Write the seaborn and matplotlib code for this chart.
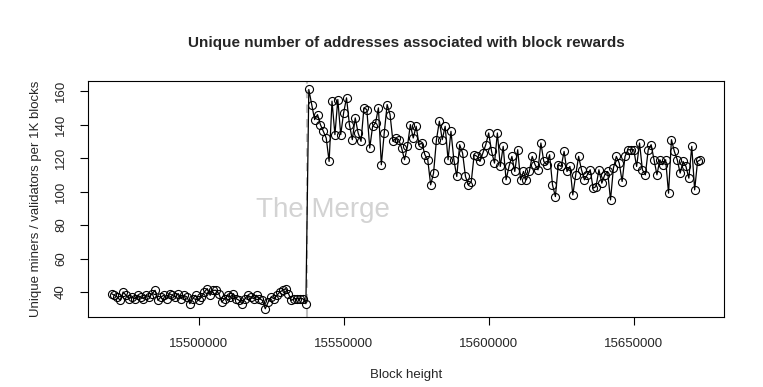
import numpy as np
import pandas as pd
import matplotlib
matplotlib.use("Agg")
import matplotlib.pyplot as plt
import seaborn as sns

# ---- data ----
start_block = 15470000
block_step = 1000
merge_block = 15537394

low_values = [39, 38, 37, 35, 40, 38, 36, 37, 36, 38,
              37, 36, 38, 37, 39, 41, 35, 37, 38, 36,
              39, 38, 37, 39, 36, 38, 37, 33, 36, 38,
              35, 37, 40, 42, 38, 41, 41, 39, 34, 36,
              38, 37, 39, 36, 35, 33, 36, 38, 37, 36,
              38, 36, 35, 30, 34, 37, 36, 38, 40, 41,
              42, 39, 35, 36, 36, 36, 36, 33]

high_values = [161, 152, 143, 146, 140, 136, 132, 118, 154, 134,
               155, 134, 147, 156, 140, 131, 144, 135, 130, 150,
               149, 126, 139, 141, 150, 116, 135, 152, 146, 130,
               132, 131, 126, 119, 127, 140, 132, 139, 128, 129,
               122, 119, 104, 111, 131, 142, 131, 139, 119, 136,
               119, 109, 128, 123, 109, 104, 106, 122, 121, 118,
               123, 128, 135, 124, 117, 135, 115, 127, 107, 115,
               121, 112, 125, 107, 112, 107, 112, 121, 116, 113,
               129, 118, 116, 122, 104, 97, 116, 115, 124, 112,
               115, 98, 110, 121, 113, 107, 110, 113, 102, 103,
               113, 105, 110, 112, 95, 114, 121, 117, 106, 121,
               125, 125, 125, 115, 129, 113, 110, 125, 128, 119,
               110, 119, 116, 119, 99, 131, 124, 119, 111, 118,
               115, 108, 127, 101, 118, 119]

x_ticks = [15500000, 15550000, 15600000, 15650000]
x_tick_labels = ["15500000", "15550000", "15600000", "15650000"]
y_ticks = [40, 60, 80, 100, 120, 140, 160]
y_tick_labels = ["40", "60", "80", "100", "120", "140", "160"]

title = "Unique number of addresses associated with block rewards"
x_label = "Block height"
y_label = "Unique miners / validators per 1K blocks"
annotation = "The Merge"

values = low_values + high_values
blocks = start_block + block_step * np.arange(len(values))
df = pd.DataFrame({"block": blocks, "value": values})

# ---- style ----
sns.set_style("white")
plt.rcParams["font.family"] = ["Liberation Sans", "DejaVu Sans"]

fig = plt.figure(figsize=(7.63, 3.87), dpi=100)
ax = fig.add_axes([0.1153, 0.1796, 0.8336, 0.6119])

ax.text(15543000, 89, annotation, color="#d3d3d3", fontsize=20,
        ha="center", va="center", zorder=0)
ax.axvline(merge_block, color="#c0c0c0", ls=(0, (4, 3)), lw=1.5, zorder=1)

sns.lineplot(data=df, x="block", y="value", ax=ax, color="black", lw=0.9,
             marker="o", markersize=5.8, markerfacecolor="none",
             markeredgecolor="black", markeredgewidth=0.8,
             estimator=None, sort=False, zorder=3)

# R-style 4% padding
xr = blocks[-1] - blocks[0]
ax.set_xlim(blocks[0] - 0.04 * xr, blocks[-1] + 0.04 * xr)
yr = max(values) - min(values)
ax.set_ylim(min(values) - 0.04 * yr, max(values) + 0.04 * yr)

ax.set_xticks(x_ticks)
ax.set_xticklabels(x_tick_labels, fontsize=9.5)
ax.set_yticks(y_ticks)
ax.set_yticklabels(y_tick_labels, fontsize=9.5, rotation=90, va="center")
ax.tick_params(axis="both", direction="out", length=6, width=0.8,
               color="black", pad=9, bottom=True, left=True)

for s in ax.spines.values():
    s.set_color("black")
    s.set_linewidth(0.8)

ax.set_xlabel(x_label, fontsize=9.5, va="center")
ax.xaxis.set_label_coords(0.5, -0.243)
ax.set_ylabel(y_label, fontsize=9.5, va="center")
ax.yaxis.set_label_coords(-0.082, 0.5)
ax.set_title(title, fontsize=11, fontweight="bold", y=1.16, va="center", pad=0)

fig.savefig("out.png", dpi=100)
